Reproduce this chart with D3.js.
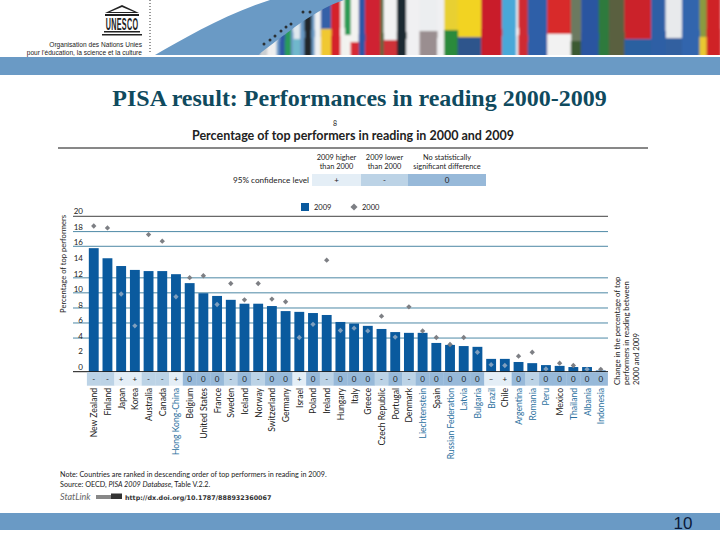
<!DOCTYPE html>
<html>
<head>
<meta charset="utf-8">
<script src="https://cdn.jsdelivr.net/npm/d3@7"></script>
<style>
  html, body { margin: 0; padding: 0; background: #fff; }
  svg { display: block; }
  text { font-family: Lato, "Open Sans", sans-serif; fill: #222; }
</style>
</head>
<body>
<div id="graph"></div>
<script>
// values
const countries = ["New Zealand", "Finland", "Japan", "Korea", "Australia", "Canada", "Hong Kong-China", "Belgium", "United States", "France", "Sweden", "Iceland", "Norway", "Switzerland", "Germany", "Israel", "Poland", "Ireland", "Hungary", "Italy", "Greece", "Czech Republic", "Portugal", "Denmark", "Liechtenstein", "Spain", "Russian Federation", "Latvia", "Bulgaria", "Brazil", "Chile", "Argentina", "Romania", "Peru", "Mexico", "Thailand", "Albania", "Indonesia"]
const partners = ["Hong Kong-China", "Liechtenstein", "Russian Federation", "Latvia", "Bulgaria", "Brazil", "Argentina", "Romania", "Peru", "Thailand", "Albania", "Indonesia"]
const top2009 = [15.9, 14.6, 13.6, 13.1, 12.95, 12.95, 12.55, 11.4, 10.1, 9.75, 9.25, 8.75, 8.75, 8.45, 7.8, 7.7, 7.55, 7.3, 6.4, 6.2, 5.9, 5.5, 5.1, 5.0, 5.0, 3.7, 3.45, 3.3, 3.2, 1.65, 1.65, 1.25, 1.1, 0.85, 0.75, 0.6, 0.6, 0.15]
const top2000 = [18.75, 18.5, 10.0, 5.9, 17.65, 16.8, 9.65, 12.1, 12.35, 8.65, 11.35, 9.25, 11.35, 9.35, 9.0, 4.4, 6.1, 14.35, 5.3, 5.6, 5.25, 7.15, 4.45, 8.35, 5.25, 4.4, 3.5, 4.4, 2.5, 0.9, 0.8, 2.0, 2.5, 0.35, 1.1, 0.8, 0.3, 0.3]
const significance = ["-", "-", "+", "+", "-", "-", "+", "0", "0", "0", "-", "0", "-", "0", "0", "+", "0", "-", "0", "0", "0", "-", "0", "-", "0", "0", "0", "0", "0", "–", "+", "0", "-", "0", "0", "0", "0", "0"]
const yTicks = [0, 2, 4, 6, 8, 10, 12, 14, 16, 18, 20]
const gridLevels = [20, 18.03, 16.14, 12.08, 10.15, 8.2, 6.27, 4.33]
const sigKeys = ["+", "-", "0", "–"]
const sigColours = ["#e4eef6", "#bcd3e6", "#97b9d9", "#e4eef6"]
const legendHeads = [["2009 higher", "than 2000"], ["2009 lower", "than 2000"], ["No statistically", "significant difference"]]
const legendMarks = ["+", "-", "0"]
const legendStops = [312, 361, 408, 486]
const sky = "#6a9ac5"
const flagColours = [sky, "#c9ced2", "#d33a3a", "#eef0f0", sky, "#e8eef2", "#2a9a5c", sky, "#dfe8ee", sky, "#20272a", sky, "#eff1f2", "#3560a8", "#d5232c", "#f3f3f0", "#2a9a52", "#f3f3f0", "#2f56a6", "#cf2430", "#5a6a40", "#f2f2f2", "#1c2a30", "#f0f0f2", "#eceef0", "#f0f0f2", "#e8d030", "#f2d320", "#c91f2a", "#4aa8d8", "#f4f4f4", "#cf2a30", "#2f5fa8", "#d82a2a", "#6c7a60", "#2a55a0", "#2d7a3c", "#5a6040", "#cb202a", "#2e5fa5", "#e8eaec", "#3065ad", "#8a9a40", "#cf2028"]
const flagAccents = [sky, "#c9ced2", "#f0f0f0", "#eef0f0", sky, "#2f56a6", "#2a9a5c", sky, "#6fb8cc", sky, "#20272a", sky, "#eff1f2", "#f0c830", "#d5232c", "#f3f3f0", "#f3f3f0", "#d72a34", "#2f56a6", "#cf2430", "#5a6a40", "#cf3038", "#1c2a30", "#f0f0f2", "#9a8e90", "#f0f0f2", "#2a8a3a", "#2d558c", "#c91f2a", "#4aa8d8", "#f4f4f4", "#cf2a30", "#2f5fa8", "#f2f2f2", "#3a5a30", "#2a55a0", "#2d7a3c", "#5a6040", "#2a60a0", "#2e5fa5", "#3060a0", "#3065ad", "#e8c830", "#cf2028"]
const flagWidths = [2, 7, 4, 5, 3, 5, 6, 2, 7, 4, 7, 3, 6, 10, 9, 4, 6, 8, 6, 15, 3, 13, 9, 13, 17, 7, 13, 23, 20, 14, 2, 9, 19, 23, 10, 17, 10, 15, 26, 14, 16, 17, 7, 13]
const poleHeads = [[264, 44], [270, 40], [275, 36], [281, 31], [286, 27], [291, 24], [303, 12], [310, 12]]

const width = 720, height = 540
const svg = d3.select("#graph").append("svg").attr("width", width).attr("height", height)

const x = d3.scaleBand().domain(countries).range([86.9, 607.6]).paddingInner(0.28).paddingOuter(0.14)
const y = d3.scaleLinear().domain([0, 20]).range([371.7, 216.3])
const sigColour = d3.scaleOrdinal().domain(sigKeys).range(sigColours)
const blue = "#0a5a9e", grey = "#7d7f84", gridBlue = "#1f6a8e"

// page furniture: header picture, bands, logo
const flagX = d3.scaleLinear().domain([0, d3.sum(flagWidths)]).range([258, width])
const flagLeft = (d, i) => flagX(d3.sum(flagWidths.slice(0, i)))
const flagWide = (d, i) => flagX(flagWidths[i]) - flagX(0) + 0.5
const defs = svg.append("defs")
defs.append("clipPath").attr("id", "flags").append("path")
  .attr("d", "M258,55 C275,42 300,22 318,12 C326,7 335,3 344,0 L720,0 L720,55 Z")
defs.append("filter").attr("id", "soft").append("feGaussianBlur").attr("stdDeviation", 0.9)
svg.append("path").attr("fill", sky)
  .attr("d", "M155,55 C185,38 225,14 270,0 L344,0 L344,55 Z")
const flags = svg.append("g").attr("clip-path", "url(#flags)").append("g").attr("filter", "url(#soft)")
flags.selectAll(".flag").data(flagColours).join("rect").attr("class", "flag")
  .attr("x", flagLeft).attr("width", flagWide)
  .attr("y", -5).attr("height", 65).attr("fill", d => d)
flags.selectAll(".accent").data(flagAccents).join("rect").attr("class", "accent")
  .attr("x", flagLeft).attr("width", flagWide)
  .attr("y", (d, i) => 28 + (i * 7) % 15).attr("height", 35).attr("fill", d => d)
svg.selectAll(".pole").data(poleHeads).join("circle").attr("class", "pole")
  .attr("cx", d => d[0]).attr("cy", d => d[1]).attr("r", 1.5).attr("fill", "#2a3034")
svg.append("rect").attr("y", 57).attr("width", width).attr("height", 18).attr("fill", sky)
svg.append("rect").attr("y", 513).attr("width", width).attr("height", 17).attr("fill", sky)
svg.append("text").attr("x", 683).attr("y", 529).attr("text-anchor", "middle")
  .style("font-family", "Liberation Sans").style("font-size", "17px").style("fill", "#0a1a3a").text("10")

const logo = svg.append("g").attr("fill", "#222")
logo.append("path").attr("d", "M105,13 L122,5 L139,13 Z M110,12 L134,12 L122,7 Z").attr("fill-rule", "evenodd")
logo.append("rect").attr("x", 105).attr("y", 14).attr("width", 34).attr("height", 2)
logo.append("text").attr("transform", "translate(122,30) scale(0.8,1.85)").attr("text-anchor", "middle")
  .style("font-family", "Liberation Sans").style("font-weight", 700).style("font-size", "9px")
  .style("letter-spacing", "0.4px").text("UNESCO")
logo.append("rect").attr("x", 104).attr("y", 31).attr("width", 36).attr("height", 1.5)
logo.append("rect").attr("x", 102).attr("y", 34).attr("width", 40).attr("height", 1.5)
svg.append("line").attr("x1", 150).attr("x2", 150).attr("y1", 0).attr("y2", 54)
  .attr("stroke", "#333").attr("stroke-dasharray", "1,2")
svg.selectAll(".org").data(["Organisation des Nations Unies", "pour l'éducation, la science et la culture"]).join("text")
  .attr("class", "org").attr("x", 142).attr("y", (d, i) => 47 + i * 8).attr("text-anchor", "end")
  .style("font-family", "Liberation Sans").style("font-size", "6.6px").text(d => d)

// titles
svg.append("text").attr("x", 359.5).attr("y", 105.5).attr("text-anchor", "middle")
  .style("font-family", "Liberation Serif").style("font-weight", 700).style("font-size", "24px").style("fill", "#0f4a5e")
  .text("PISA result: Performances in reading 2000-2009")
svg.append("text").attr("x", 335).attr("y", 126).attr("text-anchor", "middle").style("font-size", "7px").text("8")
svg.append("text").attr("x", 353).attr("y", 140).attr("text-anchor", "middle")
  .style("font-size", "12.5px").style("font-weight", 700).text("Percentage of top performers in reading in 2000 and 2009")
svg.append("line").attr("x1", 58).attr("x2", 648).attr("y1", 148).attr("y2", 148).attr("stroke", "#111")

// significance key
legendHeads.forEach((lines, i) => {
  const cx = (legendStops[i] + legendStops[i + 1]) / 2
  lines.forEach((s, j) => svg.append("text").attr("x", cx).attr("y", 160 + j * 9)
    .attr("text-anchor", "middle").style("font-size", "7.4px").text(s))
  svg.append("rect").attr("x", legendStops[i]).attr("y", 174).attr("height", 12)
    .attr("width", legendStops[i + 1] - legendStops[i]).attr("fill", sigColour(legendMarks[i]))
  svg.append("text").attr("x", cx).attr("y", 183).attr("text-anchor", "middle")
    .style("font-size", "8px").text(legendMarks[i])
})
svg.append("text").attr("x", 309).attr("y", 183).attr("text-anchor", "end").style("font-size", "8.2px").text("95% confidence level")
svg.append("rect").attr("x", 301).attr("y", 203).attr("width", 8).attr("height", 8).attr("fill", blue)
svg.append("text").attr("x", 314).attr("y", 210).style("font-size", "7.5px").text("2009")
svg.append("path").attr("d", d3.symbol(d3.symbolDiamond2, 32)).attr("transform", "translate(354,207)").attr("fill", grey)
svg.append("text").attr("x", 362).attr("y", 210).style("font-size", "7.5px").text("2000")

// grid, bars, markers
svg.selectAll(".grid").data(gridLevels).join("line").attr("class", "grid")
  .attr("x1", 73).attr("x2", 608).attr("y1", d => y(d)).attr("y2", d => y(d))
  .attr("stroke", (d, i) => i == 0 ? "#111" : gridBlue).attr("stroke-width", 0.8)

svg.selectAll(".bar").data(countries).join("rect").attr("class", "bar")
  .attr("x", d => x(d)).attr("width", x.bandwidth())
  .attr("y", (d, i) => y(top2009[i])).attr("height", (d, i) => y(0) - y(top2009[i]))
  .attr("fill", blue)

svg.selectAll(".y2000").data(countries).join("path").attr("class", "y2000")
  .attr("d", d3.symbol(d3.symbolDiamond2, 18))
  .attr("transform", (d, i) => `translate(${x(d) + x.bandwidth() / 2},${y(top2000[i])})`)
  .attr("fill", (d, i) => top2000[i] < top2009[i] ? "#7f9fbe" : grey)

const axis = svg.append("g").attr("transform", "translate(83,0)")
  .call(d3.axisLeft(y).tickValues(yTicks).tickSize(0).tickFormat(d3.format("d")))
axis.select(".domain").remove()
axis.selectAll("text").attr("x", 0).attr("dy", "-0.3em").style("font-size", "8px").style("font-family", "Lato")
svg.append("text").attr("transform", "translate(66,264) rotate(-90)").attr("text-anchor", "middle")
  .style("font-size", "7.6px").text("Percentage of top performers")

svg.append("line").attr("x1", 73).attr("x2", 608).attr("y1", y(0)).attr("y2", y(0)).attr("stroke", "#111")

// significance strip + country names
const step = x.step()
svg.selectAll(".sig").data(countries).join("rect").attr("class", "sig")
  .attr("x", d => x(d) + x.bandwidth() / 2 - step / 2).attr("width", step + 0.3)
  .attr("y", y(0) + 0.5).attr("height", 13.5)
  .attr("fill", (d, i) => sigColour(significance[i]))
svg.selectAll(".sigmark").data(countries).join("text").attr("class", "sigmark")
  .attr("x", d => x(d) + x.bandwidth() / 2).attr("y", y(0) + 10.5).attr("text-anchor", "middle")
  .style("font-size", "8px").text((d, i) => significance[i])
svg.selectAll(".name").data(countries).join("text").attr("class", "name")
  .attr("transform", d => `translate(${x(d) + x.bandwidth() / 2 + 3.5},388) rotate(-90) scale(0.86,1)`)
  .attr("text-anchor", "end").style("font-size", "10px")
  .style("fill", d => partners.includes(d) ? "#2a6f9e" : "#222").text(d => d)

// side note
const sideNote = ["Change in the percentage of top", "performers in reading between", "2000 and 2009"]
svg.selectAll(".side").data(sideNote).join("text").attr("class", "side")
  .attr("transform", (d, i) => `translate(${620 + i * 9.3},385) rotate(-90)`)
  .style("font-size", "7.7px").text(d => d)

// notes
svg.append("text").attr("x", 60).attr("y", 477).style("font-size", "7.2px")
  .text("Note: Countries are ranked in descending order of top performers in reading in 2009.")
const source = svg.append("text").attr("x", 60).attr("y", 487).style("font-size", "7.2px")
source.append("tspan").text("Source: OECD, ")
source.append("tspan").style("font-style", "italic").text("PISA 2009 Database")
source.append("tspan").text(", Table V.2.2.")
svg.append("text").attr("x", 60).attr("y", 500).style("font-size", "9px").style("font-style", "italic").style("fill", "#666").text("StatLink")
svg.append("rect").attr("x", 96).attr("y", 495).attr("width", 15).attr("height", 4).attr("fill", "#888")
svg.append("rect").attr("x", 111).attr("y", 493.5).attr("width", 11).attr("height", 5.5).attr("fill", "#333")
svg.append("text").attr("x", 125).attr("y", 500)
  .style("font-family", "DejaVu Sans").style("font-size", "6.4px").style("font-weight", 700).style("fill", "#333")
  .text("http://dx.doi.org/10.1787/888932360067")
</script>
</body>
</html>
